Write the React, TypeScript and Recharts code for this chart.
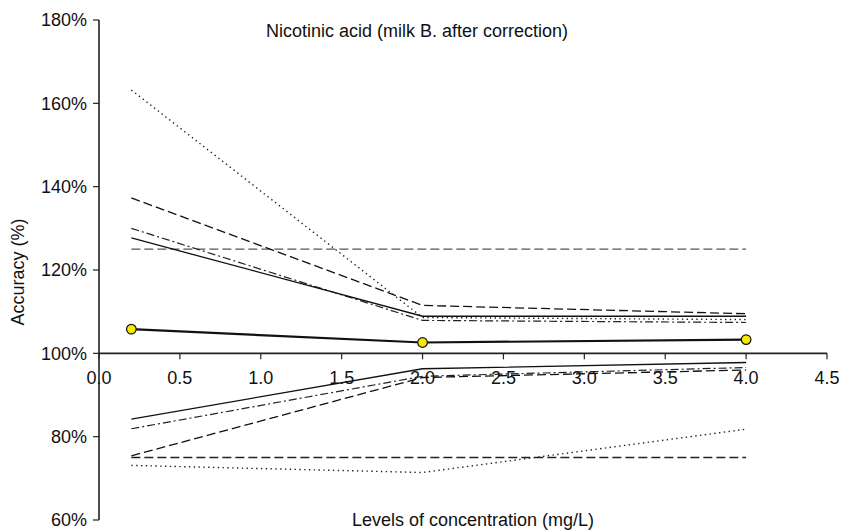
import React from "react";
import { LineChart, Line, XAxis, YAxis, ReferenceLine } from "recharts";

// ---- data ----
const X_VALUES = [0.2, 2.0, 4.0];
const MEAN = [105.8, 102.6, 103.3];
const UP_SOLID = [127.7, 108.9, 108.9];
const UP_DASH = [137.3, 111.5, 109.5];
const UP_DASHDOT = [130.0, 107.9, 107.4];
const UP_DOT = [163.2, 108.6, 108.1];
const LO_SOLID = [84.2, 96.3, 97.8];
const LO_DASHDOT = [81.9, 94.5, 96.6];
const LO_DASH = [75.4, 94.2, 96.0];
const LO_DOT = [73.1, 71.4, 81.8];
const LIMIT_HI = [125, 125, 125];
const LIMIT_LO = [75, 75, 75];

const X_TICKS = [0, 0.5, 1.0, 1.5, 2.0, 2.5, 3.0, 3.5, 4.0, 4.5];
const Y_TICKS = [60, 80, 100, 120, 140, 160, 180];
const X_DOMAIN = [0, 4.5];
const Y_DOMAIN = [60, 180];
const AXIS_CROSS = 100;

const TITLE = "Nicotinic acid (milk B. after correction)";
const X_LABEL = "Levels of concentration (mg/L)";
const Y_LABEL = "Accuracy (%)";

const data = X_VALUES.map((x, i) => ({
  x,
  mean: MEAN[i],
  upSolid: UP_SOLID[i],
  upDash: UP_DASH[i],
  upDashDot: UP_DASHDOT[i],
  upDot: UP_DOT[i],
  loSolid: LO_SOLID[i],
  loDashDot: LO_DASHDOT[i],
  loDash: LO_DASH[i],
  loDot: LO_DOT[i],
  limHi: LIMIT_HI[i],
  limLo: LIMIT_LO[i],
}));

const FONT = '"Liberation Sans", Arial, Helvetica, sans-serif';
const FS = 18;

function makeXTick(t: number) {
  return (props: any) => {
    const { x1, y1, y2 } = props;
    const top = Math.min(y1, y2);
    const bottom = Math.max(y1, y2);
    const yAxis =
      bottom -
      ((AXIS_CROSS - Y_DOMAIN[0]) / (Y_DOMAIN[1] - Y_DOMAIN[0])) * (bottom - top);
    return (
      <g>
        <line x1={x1} x2={x1} y1={yAxis} y2={yAxis + 6} stroke="#222" strokeWidth={1.2} />
        <text
          x={x1}
          y={yAxis + 31}
          textAnchor="middle"
          fontSize={FS}
          fontFamily={FONT}
          fill="#111"
        >
          {t.toFixed(1)}
        </text>
      </g>
    );
  };
}

const MeanDot = (props: any) => {
  const { cx, cy } = props;
  if (cx == null || cy == null) return null;
  return <circle cx={cx} cy={cy} r={4.8} fill="#f7ea00" stroke="#111" strokeWidth={1.2} />;
};

export default function App() {
  return (
    <div style={{ position: "absolute", left: 0, top: 0, width: 842, height: 530, fontFamily: FONT }}>
      <LineChart
        width={842}
        height={530}
        data={data}
        margin={{ top: 20, right: 15, bottom: 10, left: 0 }}
      >
        <XAxis dataKey="x" type="number" domain={X_DOMAIN} ticks={X_TICKS} hide />
        <YAxis
          type="number"
          domain={Y_DOMAIN}
          ticks={Y_TICKS}
          interval={0}
          width={99}
          tickFormatter={(v: number) => `${v}%`}
          tick={{ fill: "#111", fontSize: FS, fontFamily: FONT }}
          tickSize={6}
          tickMargin={6}
          axisLine={{ stroke: "#222", strokeWidth: 1.6 }}
          tickLine={{ stroke: "#222", strokeWidth: 1.2 }}
        />
        <ReferenceLine y={AXIS_CROSS} stroke="#222" strokeWidth={1.6} />
        {X_TICKS.map((t) => (
          <ReferenceLine key={t} x={t} shape={makeXTick(t)} />
        ))}

        <Line dataKey="limHi" stroke="#555" strokeWidth={1.3} strokeDasharray="9 4" dot={false} isAnimationActive={false} />
        <Line dataKey="limLo" stroke="#222" strokeWidth={1.3} strokeDasharray="9 4" dot={false} isAnimationActive={false} />

        <Line dataKey="upDot" stroke="#222" strokeWidth={1.4} strokeDasharray="1.4 3.4" dot={false} isAnimationActive={false} />
        <Line dataKey="upDash" stroke="#111" strokeWidth={1.3} strokeDasharray="9 4" dot={false} isAnimationActive={false} />
        <Line dataKey="upDashDot" stroke="#222" strokeWidth={1.2} strokeDasharray="8 3 2 3" dot={false} isAnimationActive={false} />
        <Line dataKey="upSolid" stroke="#111" strokeWidth={1.3} dot={false} isAnimationActive={false} />

        <Line dataKey="loDot" stroke="#222" strokeWidth={1.4} strokeDasharray="1.4 3.4" dot={false} isAnimationActive={false} />
        <Line dataKey="loDash" stroke="#111" strokeWidth={1.3} strokeDasharray="9 4" dot={false} isAnimationActive={false} />
        <Line dataKey="loDashDot" stroke="#222" strokeWidth={1.2} strokeDasharray="8 3 2 3" dot={false} isAnimationActive={false} />
        <Line dataKey="loSolid" stroke="#111" strokeWidth={1.3} dot={false} isAnimationActive={false} />

        <Line dataKey="mean" stroke="#111" strokeWidth={2.2} dot={<MeanDot />} isAnimationActive={false} />
      </LineChart>
      <svg
        width={842}
        height={530}
        style={{ position: "absolute", left: 0, top: 0, pointerEvents: "none" }}
      >
        <text x={417} y={37} textAnchor="middle" fontSize={FS} fontFamily={FONT} fill="#111">
          {TITLE}
        </text>
        <text x={473} y={526} textAnchor="middle" fontSize={FS} fontFamily={FONT} fill="#111">
          {X_LABEL}
        </text>
        <text
          x={18}
          y={272}
          textAnchor="middle"
          dominantBaseline="central"
          transform="rotate(-90 18 272)"
          fontSize={FS}
          fontFamily={FONT}
          fill="#111"
        >
          {Y_LABEL}
        </text>
      </svg>
    </div>
  );
}
